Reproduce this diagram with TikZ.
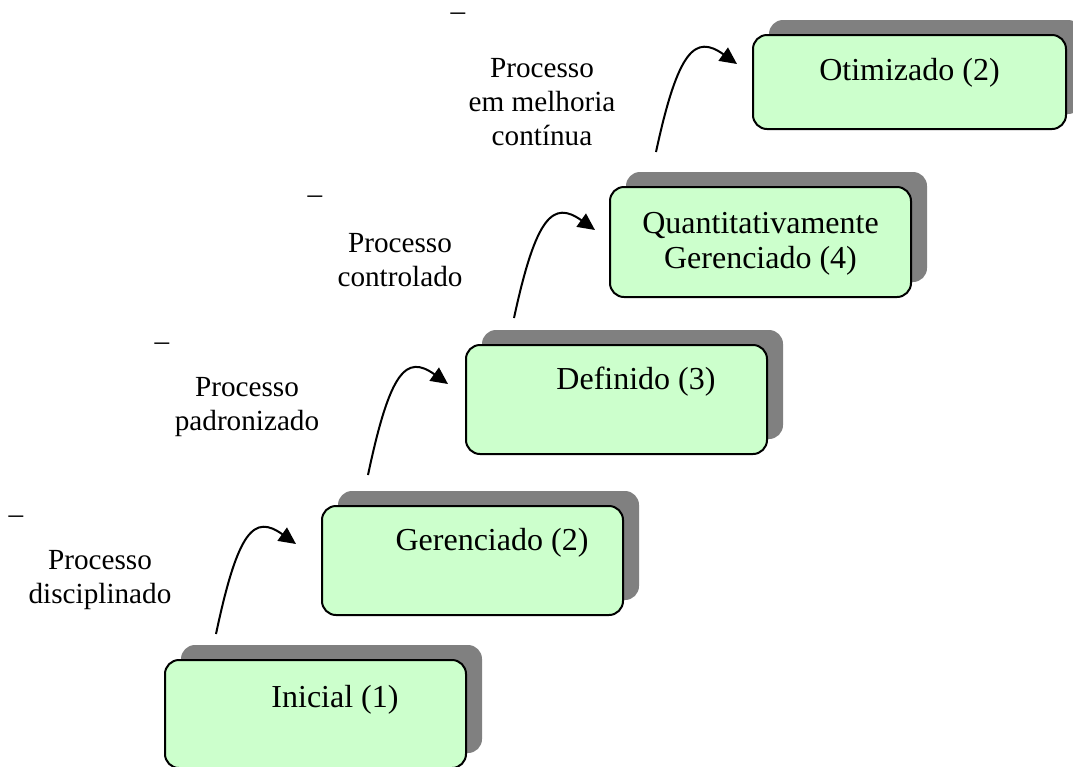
\documentclass[tikz,border=0pt]{standalone}
\usepackage{fontspec}
\setmainfont{Liberation Serif}
\usepackage{xcolor}
\definecolor{stagegreen}{RGB}{204,255,204}
\definecolor{stagegray}{RGB}{128,128,128}
\usetikzlibrary{arrows.meta, shadows}

\begin{document}
\begin{tikzpicture}[x=0.5pt, y=-0.5pt,
  stagebox/.style={draw=black, line width=1pt, fill=stagegreen, rounded corners=7pt,
    minimum width=150.5pt, inner sep=0pt,
    drop shadow={shadow xshift=8pt, shadow yshift=7.5pt, fill=stagegray, opacity=1}},
  stagetext/.style={font=\fontsize{16}{17.5}\selectfont, align=center, inner sep=0pt},
  steplabel/.style={font=\fontsize{14.6}{17}\selectfont, align=center, inner sep=0pt},
  stagearrow/.style={line width=1pt, -{Triangle[length=8.5pt, width=8pt]}}]
  \useasboundingbox (0,0) rectangle (1073,767);

  % --- Maturity levels ---
  \node[stagebox, minimum height=54pt] (inicial) at (315.5,714) {};
  \node[stagebox, minimum height=54.5pt] (gerenc) at (472.5,560.5) {};
  \node[stagebox, minimum height=54.5pt] (defin) at (616.5,399.5) {};
  \node[stagebox, minimum height=55pt] (quant) at (760.5,242) {};
  \node[stagebox, minimum height=47pt, minimum width=156.5pt] (otim) at (909.5,82) {};

  \node[stagetext] (initxt) at ([xshift=9.75pt,yshift=-20.5pt]inicial.north) {Inicial (1)};
  \node[stagetext] (gerenctxt) at ([xshift=9.75pt,yshift=-19pt]gerenc.north) {Gerenciado (2)};
  \node[stagetext] (defintxt) at ([xshift=9.75pt,yshift=-19pt]defin.north) {Definido (3)};
  \node[stagetext] (quanttxt) at ([yshift=-29pt]quant.north) {Quantitativamente\\Gerenciado (4)};
  \node[stagetext] (otimtxt) at ([yshift=-19.5pt]otim.north) {Otimizado (2)};

  % --- Transitions ---
  \draw[stagearrow] ([xshift=26pt,yshift=12.5pt]inicial.north west)
    .. controls +(22,-104) and +(-42,-30) .. ([xshift=-12.5pt,yshift=-19.5pt]gerenc.north west);
  \draw[stagearrow] ([xshift=23.5pt,yshift=15pt]gerenc.north west)
    .. controls +(22,-104) and +(-42,-30) .. ([xshift=-8.5pt,yshift=-20pt]defin.north west);
  \draw[stagearrow] ([xshift=24.5pt,yshift=13pt]defin.north west)
    .. controls +(22,-102) and +(-42,-30) .. ([xshift=-7pt,yshift=-22pt]quant.north west);
  \draw[stagearrow] ([xshift=23.5pt,yshift=17pt]quant.north west)
    .. controls +(22,-102) and +(-42,-30) .. ([xshift=-7.5pt,yshift=-15pt]otim.north west);

  % --- Labels ---
  \node[steplabel] (dash1) at (16,520) {–};
  \node[steplabel] (discip) at (100,580) {Processo\\disciplinado};
  \node[steplabel] (dash2) at (162,347) {–};
  \node[steplabel] (padron) at (247,407) {Processo\\padronizado};
  \node[steplabel] (dash3) at (315,200) {–};
  \node[steplabel] (control) at (400,260) {Processo\\controlado};
  \node[steplabel] (dash4) at (458,17) {–};
  \node[steplabel] (melhoria) at (542,102) {Processo\\em melhoria\\contínua};
\end{tikzpicture}
\end{document}
